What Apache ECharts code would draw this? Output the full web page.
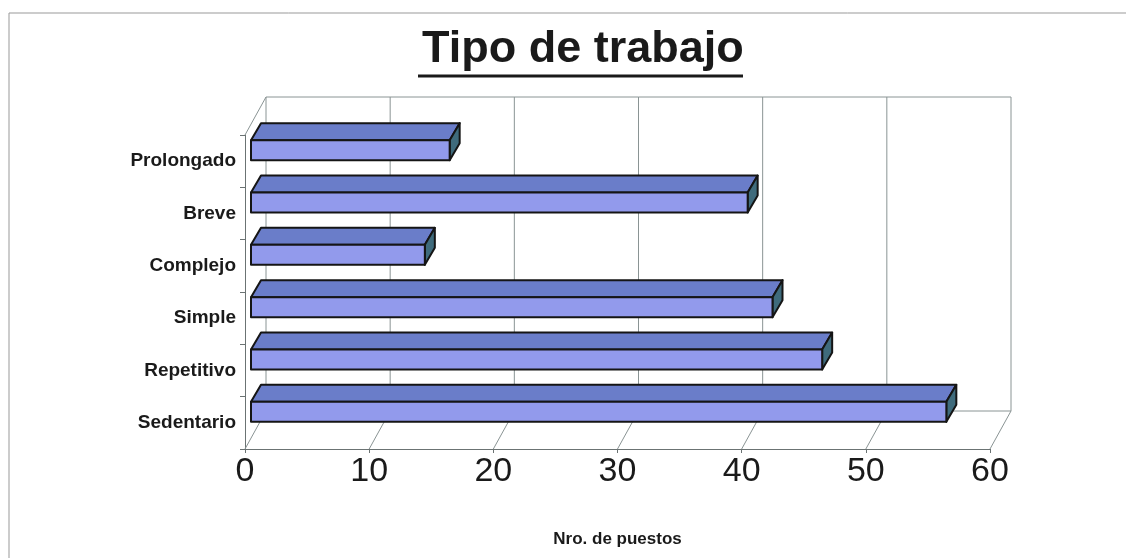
<!DOCTYPE html>
<html>
<head>
<meta charset="utf-8">
<script src="https://cdn.jsdelivr.net/npm/echarts@6/dist/echarts.min.js"></script>
<style>
  html, body { margin: 0; padding: 0; background: #fff; }
  #myChart { width: 1126px; height: 558px; }
</style>
</head>
<body>
<div id="myChart"></div>
<script>
const categories = ['Sedentario', 'Repetitivo', 'Simple', 'Complejo', 'Breve', 'Prolongado'];
const values = [56, 46, 42, 14, 40, 16];
const xTicks = [0, 10, 20, 30, 40, 50, 60];

const FONT = 'Arial, "Liberation Sans", sans-serif';
// depth of the back wall and of the bars (pixels)
const WALL_DX = 21, WALL_DY = -38;
const BAR_DX = 10, BAR_DY = -17;
const BAR_SHIFT_X = 6, BAR_SHIFT_Y = -11, BAR_H = 20;

function renderWalls(params, api) {
    const cs = params.coordSys;
    const v = api.value(0);
    const x = api.coord([v, 0])[0];
    const top = cs.y, bottom = cs.y + cs.height;
    const line = { stroke: '#8a9494', lineWidth: 1 };
    const children = [
        { type: 'line', shape: { x1: x, y1: bottom, x2: x + WALL_DX, y2: bottom + WALL_DY }, style: line },
        { type: 'line', shape: { x1: x + WALL_DX, y1: top + WALL_DY, x2: x + WALL_DX, y2: bottom + WALL_DY }, style: line }
    ];
    if (params.dataIndex === 0) {
        children.push(
            { type: 'line', shape: { x1: cs.x + WALL_DX, y1: top + WALL_DY, x2: cs.x + cs.width + WALL_DX, y2: top + WALL_DY }, style: line },
            { type: 'line', shape: { x1: cs.x + WALL_DX, y1: bottom + WALL_DY, x2: cs.x + cs.width + WALL_DX, y2: bottom + WALL_DY }, style: line },
            { type: 'line', shape: { x1: cs.x, y1: top, x2: cs.x + WALL_DX, y2: top + WALL_DY }, style: line }
        );
    }
    return { type: 'group', children: children };
}

function renderBar(params, api) {
    const v = api.value(0), c = api.value(1);
    const p0 = api.coord([0, c]);
    const p1 = api.coord([v, c]);
    const x0 = p0[0] + BAR_SHIFT_X, x1 = p1[0] + BAR_SHIFT_X;
    const yc = p0[1] + BAR_SHIFT_Y;
    const yt = yc - BAR_H / 2, yb = yc + BAR_H / 2;
    const edge = { stroke: '#151515', lineWidth: 2, lineJoin: 'round' };
    return {
        type: 'group',
        children: [
            { type: 'polygon', shape: { points: [[x0, yt], [x1, yt], [x1 + BAR_DX, yt + BAR_DY], [x0 + BAR_DX, yt + BAR_DY]] },
              style: Object.assign({ fill: '#6a7dc9' }, edge) },
            { type: 'polygon', shape: { points: [[x1, yt], [x1 + BAR_DX, yt + BAR_DY], [x1 + BAR_DX, yb + BAR_DY], [x1, yb]] },
              style: Object.assign({ fill: '#3f6b7c' }, edge) },
            { type: 'rect', shape: { x: x0, y: yt, width: x1 - x0, height: BAR_H },
              style: Object.assign({ fill: '#929aec' }, edge) }
        ]
    };
}

const chart = echarts.init(document.getElementById('myChart'));
const option = {
    backgroundColor: '#fff',
    animation: false,
    title: {
        text: 'Tipo de trabajo',
        left: 417,
        top: 22,
        textStyle: { fontFamily: FONT, fontSize: 45, fontWeight: 'bold', color: '#1a1a1a' }
    },
    graphic: [
        { type: 'rect', shape: { x: 9, y: 13, width: 1200, height: 600 }, style: { fill: 'none', stroke: '#999', lineWidth: 1 } },
        { type: 'line', shape: { x1: 418, y1: 76, x2: 743, y2: 76 }, style: { stroke: '#1a1a1a', lineWidth: 3 } }
    ],
    grid: { left: 245, right: 136, top: 135, bottom: 109 },
    xAxis: {
        type: 'value',
        min: 0,
        max: 60,
        interval: 10,
        name: 'Nro. de puestos',
        nameLocation: 'middle',
        nameGap: 82,
        nameTextStyle: { fontFamily: FONT, fontSize: 17, fontWeight: 'bold', color: '#1a1a1a' },
        axisLine: { show: true, lineStyle: { color: '#6b7373', width: 1 } },
        axisTick: { show: true, length: 4, lineStyle: { color: '#6b7373' } },
        splitLine: { show: false },
        axisLabel: { fontFamily: FONT, fontSize: 34, color: '#1a1a1a', margin: 6 }
    },
    yAxis: {
        type: 'category',
        data: categories,
        axisLine: { show: true, lineStyle: { color: '#6b7373', width: 1 } },
        axisTick: { show: true, length: 5, lineStyle: { color: '#6b7373' } },
        axisLabel: { fontFamily: FONT, fontSize: 19, fontWeight: 'bold', color: '#1a1a1a', margin: 9 }
    },
    series: [
        {
            type: 'custom',
            renderItem: renderWalls,
            encode: { x: 0, y: 1 },
            data: xTicks.map(v => [v, 0]),
            silent: true,
            z: 1
        },
        {
            type: 'custom',
            renderItem: renderBar,
            encode: { x: 0, y: 1 },
            data: values.map((v, i) => [v, i]),
            z: 3
        }
    ]
};
chart.setOption(option);
</script>
</body>
</html>
